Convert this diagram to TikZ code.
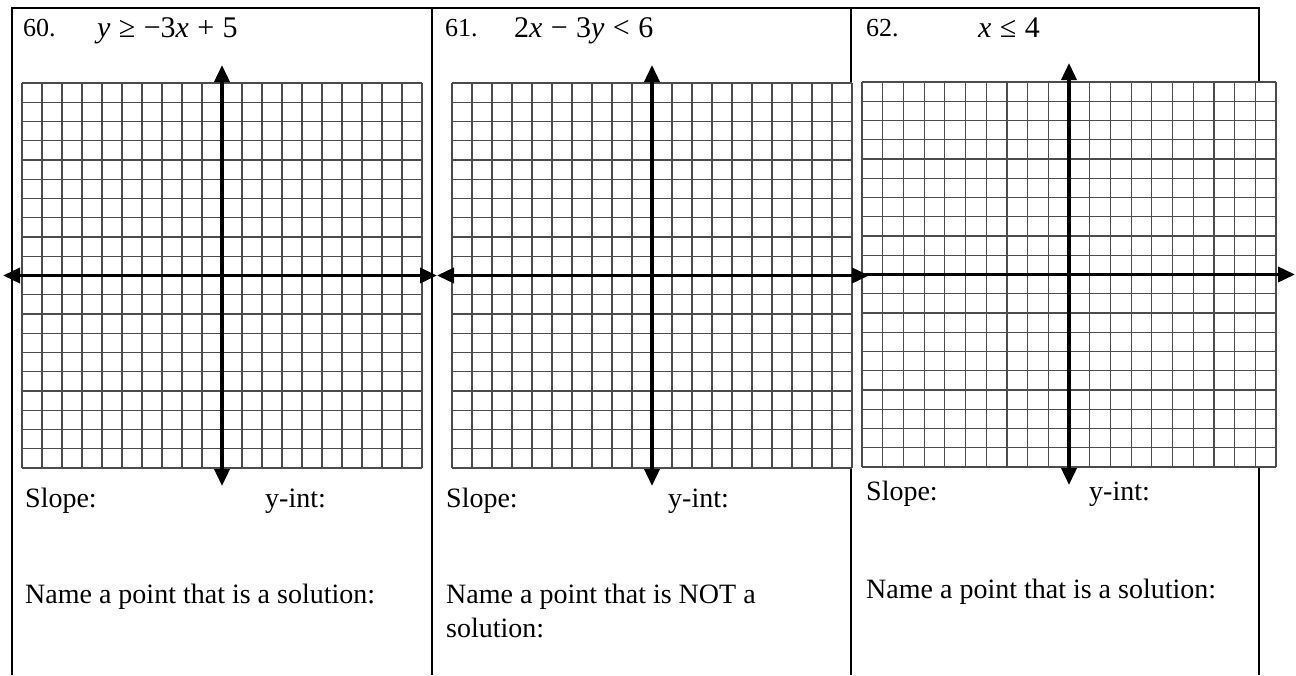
\documentclass[tikz,border=0pt]{standalone}
\usepackage{fontspec}
\setmainfont{Liberation Serif}
\usetikzlibrary{arrows.meta}
\newcommand{\eqgap}{\hspace{0.28em}}

\begin{document}
\begin{tikzpicture}[x=1pt,y=-1pt,
  frame/.style={line width=2.2pt},
  gridline/.style={black!70,line width=1.2pt},
  axis/.style={line width=3.6pt,
               {Triangle[length=17pt,width=15pt]}-{Triangle[length=17pt,width=15pt]}},
  raxis/.style={line width=3.6pt,-{Triangle[length=17pt,width=15pt]}},
  num/.style={anchor=base west,inner sep=0pt,font=\fontsize{26}{30}\selectfont},
  eqn/.style={anchor=base west,inner sep=0pt,font=\fontsize{30}{34}\selectfont},
  lbl/.style={anchor=base west,inner sep=0pt,align=left,
              font=\fontsize{28}{34}\selectfont}
]
\useasboundingbox (0,0) rectangle (1296,675);
% outer frame and dividers
\draw[frame] (12,675) -- (12,8) -- (1259,8) -- (1259,675);
\draw[frame] (432,8) -- (432,675);
\draw[frame] (851,8) -- (851,675);
% the three grids
\foreach \gx/\gy/\cw in {22/83/20, 452/83/20, 862/82/20.7} {
  \fill[white] (\gx,\gy) rectangle ++(20*\cw,385);
  \foreach \i in {0,...,20} {
    \draw[gridline] (\gx+\i*\cw,\gy) -- ++(0,385);
    \draw[gridline] (\gx,\gy+\i*19.25) -- ++(20*\cw,0);
  }
}
% axes
\draw[axis] (222,486) -- (222,65);
\draw[axis] (3,275.5) -- (437,275.5);
\draw[axis] (652,486) -- (652,65);
\draw[axis] (437,275.5) -- (869,275.5);
\draw[axis] (1069,485) -- (1069,63);
\draw[raxis] (862,274.5) -- (1295,274.5);
% headings
\node[num] (n60) at (23,36) {60.};
\node[eqn] (e60) at (97,37)
  {\textit{y}\eqgap≥\eqgap−3\textit{x}\eqgap+\eqgap5};
\node[num] (n61) at (445,36) {61.};
\node[eqn] (e61) at (514,37)
  {2\textit{x}\eqgap−\eqgap3\textit{y}\eqgap<\eqgap6};
\node[num] (n62) at (866,36) {62.};
\node[eqn] (e62) at (978,37) {\textit{x}\eqgap≤\eqgap4};
% questions
\node[lbl] (slope1) at (25,507) {Slope:};
\node[lbl] (yint1) at (265,507) {y-int:};
\node[lbl] (pt1) at (25,603) {Name a point that is a solution:};
\node[lbl] (slope2) at (446,507) {Slope:};
\node[lbl] (yint2) at (668,507) {y-int:};
\node[lbl] (pt2) at (446,637) {Name a point that is NOT a\\solution:};
\node[lbl] (slope3) at (866,500) {Slope:};
\node[lbl] (yint3) at (1089,500) {y-int:};
\node[lbl] (pt3) at (866,598) {Name a point that is a solution:};
\end{tikzpicture}
\end{document}
